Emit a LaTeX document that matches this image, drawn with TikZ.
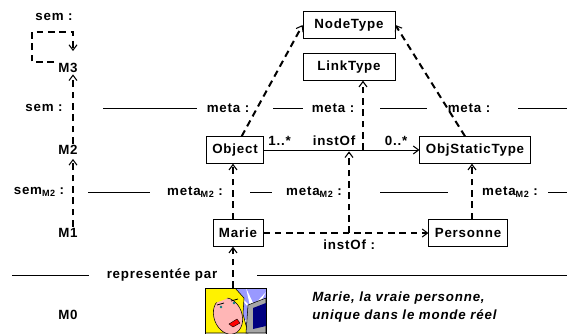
\documentclass[tikz,border=0pt]{standalone}
\usepackage{fontspec}
\setmainfont[LetterSpace=6]{Liberation Sans}
\usetikzlibrary{arrows.meta}
\newcommand\mfont{\fontsize{10}{11}\selectfont\bfseries}
\newcommand\lowM{\raisebox{-0.35ex}{\fontsize{6.8}{7}\selectfont M2}}
\tikzset{
  lvl/.style = {font=\mfont, inner sep=1pt},% niveau M0..M3
  lbl/.style = {font=\mfont, inner sep=1pt},% etiquette de ligne
  cls/.style = {draw=black, font=\mfont, inner xsep=4.5pt, inner ysep=0pt,
    minimum height=20pt, line width=0.6pt},% classe / objet
  meta/.style = {cls, minimum width=69pt},% meta-classe
  inst/.style = {->, line width=1.5pt, dash pattern=on 5pt off 3.5pt},% lien semantique
  assoc/.style = {->, line width=0.6pt},% association
  rule/.style = {line width=0.6pt}% separation des niveaux
}
\begin{document}
\begin{tikzpicture}[>={Straight Barb[length=4pt, width=6pt, line width=0.8pt]}, x=0.75pt, y=-0.75pt]
    \useasboundingbox (0,0) rectangle (567,333);
    % classes et objets
    \node [meta] (nodetype) at (349,25) {NodeType};
    \node [meta] (linktype) at (349,67) {LinkType};
    \node [cls] (object) at (235,150) {Object};
    \node [cls] (objstatic) at (475,150) {ObjStaticType};
    \node [cls] (marie) at (238,233) {Marie};
    \node [cls] (personne) at (468,233) {Personne};
    % niveaux
    \node [lvl] (m3) at (68,68) {M3};
    \node [lvl] (m2) at (68,150) {M2};
    \node [lvl] (m1) at (68,233) {M1};
    \node [lvl] (m0) at (68,315) {M0};
    \node [lbl] (sem3) at (54,17) {sem :};
    \node [lbl] (sem2) at (44,108) {sem :};
    \node [lbl] (sem1) at (39,192) {sem\lowM\ :};
    % lignes M3/M2
    \node [lbl] (metaA) at (228,108) {meta :};
    \node [lbl] (metaB) at (333,108) {meta :};
    \node [lbl] (metaC) at (469,108) {meta :};
    \draw[rule] (103,108) -- (197,108);
    \draw[rule] (273,108) -- (303,108);
    \draw[rule] (380,108) -- (427,108);
    \draw[rule] (518,108) -- (567,108);
    % lignes M2/M1
    \node [lbl] (metaD) at (195,192) {meta\lowM\ :};
    \node [lbl] (metaE) at (314,192) {meta\lowM\ :};
    \node [lbl] (metaF) at (510,192) {meta\lowM\ :};
    \draw[rule] (88,192) -- (150,192);
    \draw[rule] (250,192) -- (272,192);
    \draw[rule] (380,192) -- (448,192);
    \draw[rule] (548,192) -- (567,192);
    % ligne M1/M0
    \node [lbl] (repr) at (162,275) {representée par};
    \draw[rule] (12,275) -- (89,275);
    \draw[rule] (257,275) -- (567,275);
    % semantique des niveaux
    \coordinate (loop) at (32,32);
    \draw[inst] ([xshift=-2pt,yshift=4.5pt]m3.west) -| (loop) -| ([xshift=3.75pt,yshift=8pt]m3.north);
    \draw[inst] ([xshift=3.75pt]m2.north) -- ([xshift=3.75pt]m3.south);
    \draw[inst] ([xshift=3.75pt]m1.north) -- ([xshift=3.75pt,yshift=-2pt]m2.south);
    % meta
    \draw[inst] ([xshift=5pt]object.north) -- (nodetype.west);
    \draw[inst] ([xshift=-7.5pt]objstatic.north) -- (nodetype.east);
    \draw[assoc] (object) -- (objstatic)
      node[lbl, pos=0.1, above=2pt] {1..*}
      node[lbl, pos=0.45, above=2pt] {instOf}
      node[lbl, pos=0.85, above=2pt] {0..*};
    \coordinate (linkA) at (363,150);
    \draw[inst] (linkA) -- (linkA |- linktype.south);
    % niveau M1
    \draw[inst] (marie) -- (personne) node[lbl, pos=0.52, below=3pt] {instOf :};
    \coordinate (linkB) at (349,233);
    \draw[inst, shorten >=1pt] (linkB) -- (linkB |- objstatic.west);
    \draw[inst] ([xshift=-3.75pt]marie.north) -- ([xshift=-3.75pt]marie.north |- object.south);
    \draw[inst] ([xshift=3pt]personne.north) -- ([xshift=3pt]personne.north |- objstatic.south);
    % M0 : la vraie Marie
    \coordinate (photo) at (233,288);
    \begin{scope}
      \clip (205,288) rectangle (266,333);
      \fill[blue!40!white] (205,288) rectangle (266,333);
      \fill[white] (252,312) -- (236,292) -- (250,306) -- (246,288) -- (254,305) -- (266,292)
        -- (256,310) -- (266,318) -- (254,316) -- (258,333) -- (250,318) -- (238,330) -- cycle;
      \filldraw[fill=yellow, draw=black, line width=0.4pt] (205,288) -- (235,288) -- (244,298)
        -- (243,314) -- (248,333) -- (205,333) -- cycle;
      \filldraw[fill=pink!70!red!60!white, draw=black, line width=0.4pt, rotate around={20:(228,316)}]
        (228,316) ellipse [x radius=10.5pt, y radius=14pt];
      \fill[yellow] (209,291) -- (236,290) -- (226,299) -- (212,304) -- cycle;
      \draw[line width=0.6pt] (217,305) -- (224,303) (231,301) -- (238,299);
      \fill[teal] (221,307) circle (1.1pt) (234,303) circle (1.1pt);
      \filldraw[fill=red, draw=black, line width=0.3pt] (229,324) -- (237,319) -- (240,323) -- (233,327) -- cycle;
      \filldraw[fill=gray!70, draw=black, line width=0.4pt] (248,305) -- (266,298) -- (266,333) -- (246,333) -- cycle;
      \fill[blue!50!black] (253,308) -- (266,303) -- (266,326) -- (253,329) -- cycle;
    \end{scope}
    \draw[line width=0.6pt] (205,288) rectangle (266,336);
    \draw[inst] (photo) -- (photo |- marie.south);
    \node [font=\fontsize{10}{13.5}\selectfont\bfseries\itshape, align=left, anchor=west, inner sep=0pt]
      (vraie) at (312,307) {Marie, la vraie personne,\\unique dans le monde réel};
\end{tikzpicture}
\end{document}
